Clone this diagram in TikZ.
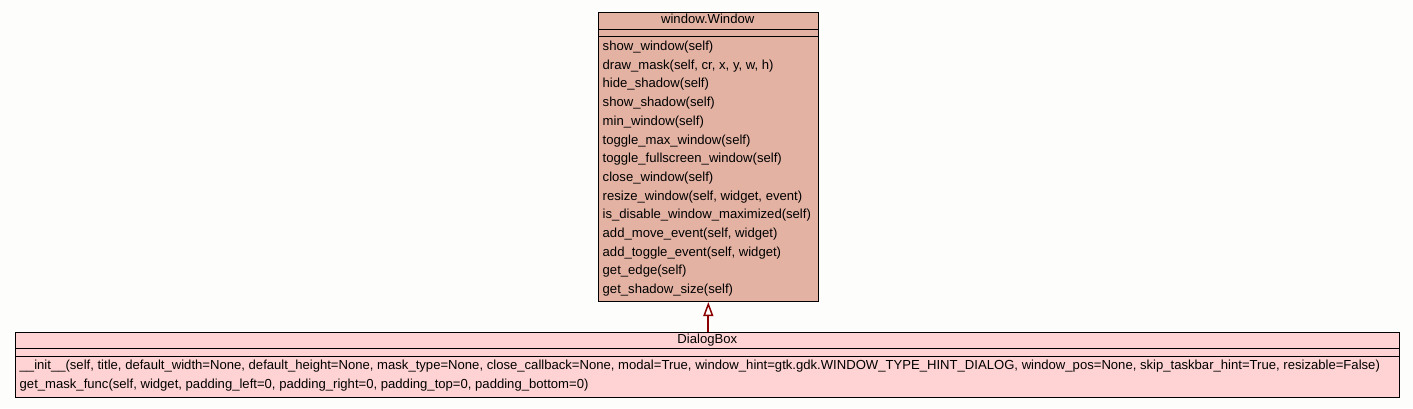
\documentclass[tikz,border=0pt]{standalone}
\usepackage{fontspec}
\setmainfont{Liberation Sans}
\usetikzlibrary{arrows.meta}
\definecolor{winfill}{HTML}{E3B2A3}
\definecolor{dlgfill}{HTML}{FFD3D3}
\definecolor{bgcol}{HTML}{FDFEFC}
\definecolor{arrowred}{HTML}{8B0000}
\tikzset{
  classbox/.style={draw=black, line width=1.1pt, rectangle, inner sep=0pt, anchor=north west},
  sepline/.style={draw=black, line width=1.1pt},
  member/.style={anchor=west, inner sep=0pt, text height=9.5pt, text depth=2.8pt},
  titletext/.style={inner sep=0pt, text height=9.5pt, text depth=2.8pt},
  inherit/.style={draw=arrowred, line width=2pt, -{Triangle[open, length=14pt, width=10pt, line width=1.5pt, fill=bgcol]}}
}
\begin{document}
\begin{tikzpicture}[x=1pt, y=-1pt, font=\fontsize{13.1}{15}\selectfont]
\useasboundingbox[fill=bgcol] (0,0) rectangle (1413,408);
% window.Window
\node[classbox, fill=winfill, minimum width=219.5pt, minimum height=289.5pt] (win) at (598,11.5) {};
\draw[sepline] (598,29.3) -- (817.5,29.3);
\draw[sepline] (598,36.8) -- (817.5,36.8);
\node[titletext] (wintitle) at (707.7,20) {window.Window};
\foreach \t [count=\i from 0] in {{show\_window(self)}, {draw\_mask(self, cr, x, y, w, h)}, {hide\_shadow(self)}, {show\_shadow(self)}, {min\_window(self)}, {toggle\_max\_window(self)}, {toggle\_fullscreen\_window(self)}, {close\_window(self)}, {resize\_window(self, widget, event)}, {is\_disable\_window\_maximized(self)}, {add\_move\_event(self, widget)}, {add\_toggle\_event(self, widget)}, {get\_edge(self)}, {get\_shadow\_size(self)}}
  \node[member] (wm\i) at (602.5, 47.3+18.67*\i) {\t};
% DialogBox
\node[classbox, fill=dlgfill, minimum width=1384pt, minimum height=65pt] (dlg) at (15.3,331.7) {};
\draw[sepline] (15.3,348.8) -- (1399.3,348.8);
\draw[sepline] (15.3,356.3) -- (1399.3,356.3);
\node[titletext] (dlgtitle) at (707.3,340) {DialogBox};
\node[member] (dm0) at (19.5,366.4) {\_\_init\_\_(self, title, default\_width=None, default\_height=None, mask\_type=None, close\_callback=None, modal=True, window\_hint=gtk.gdk.WINDOW\_TYPE\_HINT\_DIALOG, window\_pos=None, skip\_taskbar\_hint=True, resizable=False)};
\node[member] (dm1) at (19.5,385.1) {get\_mask\_func(self, widget, padding\_left=0, padding\_right=0, padding\_top=0, padding\_bottom=0)};
% inheritance
\draw[inherit] (dlg.north -| win.south) -- (win.south);
\end{tikzpicture}
\end{document}
